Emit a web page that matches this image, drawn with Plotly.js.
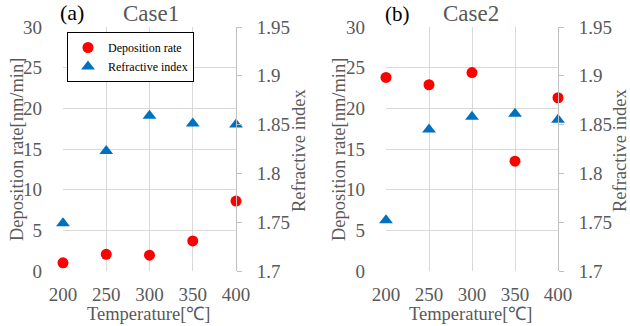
<!DOCTYPE html>
<html>
<head>
<meta charset="utf-8">
<script src="https://cdn.plot.ly/plotly-3.0.1.min.js"></script>
<style>html,body{margin:0;padding:0;background:#fff;}#chart{width:630px;height:326px;}</style>
</head>
<body>
<div id="chart"></div>
<script>
const temperature = [200, 250, 300, 350, 400];
const case1DepositionRate = [1.0, 2.05, 1.95, 3.7, 8.6];
const case1RefractiveIndex = [1.749, 1.823, 1.859, 1.851, 1.850];
const case2DepositionRate = [23.8, 22.9, 24.4, 13.5, 21.3];
const case2RefractiveIndex = [1.752, 1.845, 1.858, 1.861, 1.855];
const xTicks = [200, 250, 300, 350, 400];
const rateTicks = [0, 5, 10, 15, 20, 25, 30];
const indexTicks = [1.7, 1.75, 1.8, 1.85, 1.9, 1.95];
const indexTickText = ['1.7', '1.75', '1.8', '1.85', '1.9', '1.95'];

const W = 630, H = 326;
const serif = 'serif';
const gray = '#595959';
const grid = '#d9d9d9';
const tickFont = {family: serif, size: 19, color: gray};

const redMarker = {symbol: 'circle', size: 11, color: '#ff0000'};
const blueMarker = {symbol: 'triangle-up', size: 12, color: '#0070c0'};

const traces = [
  {x: temperature, y: case1DepositionRate, xaxis: 'x', yaxis: 'y', type: 'scatter', mode: 'markers', name: 'Deposition rate', marker: redMarker, cliponaxis: false},
  {x: temperature, y: case1RefractiveIndex, xaxis: 'x', yaxis: 'y2', type: 'scatter', mode: 'markers', name: 'Refractive index', marker: blueMarker, cliponaxis: false},
  {x: temperature, y: case2DepositionRate, xaxis: 'x2', yaxis: 'y3', type: 'scatter', mode: 'markers', name: 'Deposition rate', marker: redMarker, showlegend: false, cliponaxis: false},
  {x: temperature, y: case2RefractiveIndex, xaxis: 'x2', yaxis: 'y4', type: 'scatter', mode: 'markers', name: 'Refractive index', marker: blueMarker, showlegend: false, cliponaxis: false}
];

const yDom = [(H - 271) / H, (H - 27) / H];

function xAx(dom, anchor) {
  return {domain: dom, anchor: anchor, range: [200, 400], tickvals: xTicks, showgrid: true, gridcolor: grid, gridwidth: 1,
    zeroline: false, showline: false, ticks: '', tickfont: tickFont, ticklabelstandoff: 10, fixedrange: true};
}
function yLeft(anchor) {
  return {domain: yDom, anchor: anchor, range: [0, 30], tickvals: rateTicks, showgrid: true, gridcolor: grid, gridwidth: 1,
    zeroline: false, showline: false, ticks: '', tickfont: tickFont, ticklabelstandoff: 20, fixedrange: true};
}
function yRight(anchor, over) {
  return {domain: yDom, anchor: anchor, overlaying: over, side: 'right', range: [1.7, 1.95], tickvals: indexTicks, ticktext: indexTickText,
    showgrid: false, zeroline: false, showline: true, linecolor: '#bfbfbf', linewidth: 1, ticks: 'outside', ticklen: 5,
    tickcolor: '#bfbfbf', tickfont: tickFont, ticklabelstandoff: 11, fixedrange: true};
}

function ann(text, px, py, opts) {
  return Object.assign({text: text, xref: 'paper', yref: 'paper', x: px / W, y: 1 - py / H, xanchor: 'center', yanchor: 'middle',
    showarrow: false, font: {family: serif, size: 18.5, color: gray}}, opts || {});
}

const layout = {
  width: W, height: H,
  margin: {l: 0, r: 0, t: 0, b: 0},
  paper_bgcolor: '#ffffff', plot_bgcolor: 'rgba(0,0,0,0)',
  font: {family: serif},
  showlegend: true,
  legend: {x: 67 / W, y: 1 - 32 / H, xanchor: 'left', yanchor: 'top', bgcolor: '#ffffff', bordercolor: '#000000', borderwidth: 1,
    font: {family: serif, size: 12, color: '#000000'}, tracegroupgap: 0, itemwidth: 30},
  xaxis: xAx([63 / W, 236 / W], 'y'),
  yaxis: yLeft('x'),
  yaxis2: yRight('x', 'y'),
  xaxis2: xAx([386 / W, 558 / W], 'y3'),
  yaxis3: yLeft('x2'),
  yaxis4: yRight('x2', 'y3'),
  annotations: [
    ann('Deposition rate[nm/min]', 17, 150, {textangle: -90}),
    ann('Refractive index', 299, 150, {textangle: -90}),
    ann('Deposition rate[nm/min]', 339, 150, {textangle: -90}),
    ann('Refractive index', 620, 150, {textangle: -90}),
    ann('Temperature[℃]', 149, 314),
    ann('Temperature[℃]', 471, 314),
    ann('(a)', 72, 13, {font: {family: serif, size: 22, color: '#000000'}}),
    ann('Case1', 151, 14, {font: {family: serif, size: 23, color: gray}}),
    ann('(b)', 397, 14, {font: {family: serif, size: 21, color: '#000000'}}),
    ann('Case2', 471, 14, {font: {family: serif, size: 23, color: gray}})
  ]
};

Plotly.newPlot('chart', traces, layout, {displayModeBar: false, staticPlot: true});
</script>
</body>
</html>
